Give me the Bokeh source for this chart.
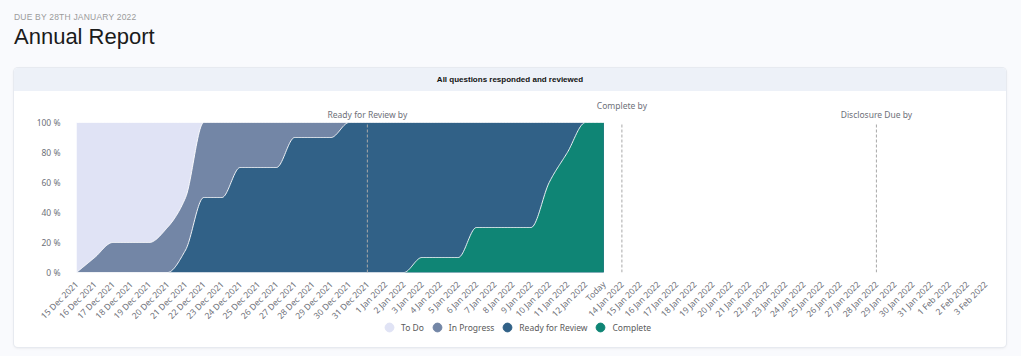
import numpy as np
from bokeh.plotting import figure
from bokeh.models import Range1d, FixedTicker, Legend, LegendItem, Div
from bokeh.layouts import column
from bokeh.embed import file_html
from bokeh.resources import INLINE
from bokeh.core.properties import value

# ---------------- data ----------------
dates = [
    "15 Dec 2021", "16 Dec 2021", "17 Dec 2021", "18 Dec 2021", "19 Dec 2021",
    "20 Dec 2021", "21 Dec 2021", "22 Dec 2021", "23 Dec 2021", "24 Dec 2021",
    "25 Dec 2021", "26 Dec 2021", "27 Dec 2021", "28 Dec 2021", "29 Dec 2021",
    "30 Dec 2021", "31 Dec 2021", "1 Jan 2022", "2 Jan 2022", "3 Jan 2022",
    "4 Jan 2022", "5 Jan 2022", "6 Jan 2022", "7 Jan 2022", "8 Jan 2022",
    "9 Jan 2022", "10 Jan 2022", "11 Jan 2022", "12 Jan 2022", "Today",
    "14 Jan 2022", "15 Jan 2022", "16 Jan 2022", "17 Jan 2022", "18 Jan 2022",
    "19 Jan 2022", "20 Jan 2022", "21 Jan 2022", "22 Jan 2022", "23 Jan 2022",
    "24 Jan 2022", "25 Jan 2022", "26 Jan 2022", "27 Jan 2022", "28 Jan 2022",
    "29 Jan 2022", "30 Jan 2022", "31 Jan 2022", "1 Feb 2022", "2 Feb 2022",
    "3 Feb 2022",
]

series_names = ["To Do", "In Progress", "Ready for Review", "Complete"]
series_colors = ["#e0e3f5", "#7386a6", "#316187", "#0f8575"]

to_do = [100] * 30
in_progress = [0, 10, 20, 20, 20, 30, 50, 100, 100, 100,
               100, 100, 100, 100, 100, 100, 100, 100, 100, 100,
               100, 100, 100, 100, 100, 100, 100, 100, 100, 100]
ready_for_review = [0, 0, 0, 0, 0, 0, 15, 50, 50, 70,
                    70, 70, 90, 90, 90, 100, 100, 100, 100, 100,
                    100, 100, 100, 100, 100, 100, 100, 100, 100, 100]
complete = [0, 0, 0, 0, 0, 0, 0, 0, 0, 0,
            0, 0, 0, 0, 0, 0, 0, 0, 0, 10,
            10, 10, 30, 30, 30, 30, 60, 80, 100, 100]

y_ticks = [0, 20, 40, 60, 80, 100]
y_tick_labels = ["0 %", "20 %", "40 %", "60 %", "80 %", "100 %"]

markline_dates = ["31 Dec 2021", "14 Jan 2022", "28 Jan 2022"]
markline_labels = ["Ready for Review by", "Complete by", "Disclosure Due by"]

subtitle = "DUE BY 28TH JANUARY 2022"
title = "Annual Report"
card_title = "All questions responded and reviewed"

# ---------------- styles ----------------
Y_MAX = 100                 # data maximum (percent)
HEADROOM = 16               # extra y-range above 100 % for the mark-line labels
PX_PER_UNIT = 1.5           # frame is 174 px tall for 116 units
label_offsets_px = [8, 17, 8]
AX_FONT = "Noto Sans"
AX_COLOR = "#6e7079"
FS = "8.5px"


def smooth_curve(xs, ys, steps=24):
    """Monotone cubic Hermite rendering of a line through the data points."""
    x = np.asarray(xs, float)
    y = np.asarray(ys, float)
    n = len(x)
    d = np.diff(y) / np.diff(x)
    m = np.zeros(n)
    for k in range(1, n - 1):
        if d[k - 1] * d[k] > 0:
            m[k] = 2.0 / (1.0 / d[k - 1] + 1.0 / d[k])
    m[0] = d[0]
    m[-1] = d[-1]
    ox, oy = [], []
    for k in range(n - 1):
        h = x[k + 1] - x[k]
        t = np.linspace(0, 1, steps, endpoint=(k == n - 2))
        h00 = 2 * t**3 - 3 * t**2 + 1
        h10 = t**3 - 2 * t**2 + t
        h01 = -2 * t**3 + 3 * t**2
        h11 = t**3 - t**2
        oy.append(h00 * y[k] + h10 * h * m[k] + h01 * y[k + 1] + h11 * h * m[k + 1])
        ox.append(x[k] + t * h)
    return np.concatenate(ox), np.concatenate(oy)


p = figure(
    frame_width=909, frame_height=174,
    x_range=Range1d(0, len(dates) - 1), y_range=Range1d(0, Y_MAX + HEADROOM),
    output_backend="svg", toolbar_location=None,
    min_border_left=62, min_border_right=21, min_border_top=7, min_border_bottom=44,
    background_fill_color="white", border_fill_color="white", outline_line_color=None,
)
p.grid.visible = False

all_series = [to_do, in_progress, ready_for_review, complete]
for name, color, vals in zip(series_names, series_colors, all_series):
    xi = list(range(len(vals)))
    sx, sy = smooth_curve(xi, vals)
    sy = np.clip(sy, 0, Y_MAX)
    p.varea(x=sx, y1=0, y2=sy, fill_color=color, fill_alpha=1)
    p.line(x=sx, y=sy, line_color="white", line_width=1, line_alpha=0.9)

# mark lines (dashed) and their labels
ml_idx = [dates.index(d) for d in markline_dates]
p.segment(x0=ml_idx, y0=[0] * len(ml_idx), x1=ml_idx, y1=[Y_MAX] * len(ml_idx),
          line_color="#a8a8a8", line_width=1, line_dash="3 2")
p.text(x=ml_idx, y=[Y_MAX + o / PX_PER_UNIT for o in label_offsets_px], text=markline_labels,
       text_align="center", text_baseline="middle", text_font=value(AX_FONT),
       text_font_size=FS, text_color=AX_COLOR)

# axes
xa = p.xaxis[0]
xa.ticker = FixedTicker(ticks=list(range(len(dates))))
xa.major_label_overrides = {i: d for i, d in enumerate(dates)}
xa.major_label_orientation = np.pi / 4
xa.axis_line_color = None
xa.major_tick_line_color = None
xa.minor_tick_line_color = None
xa.major_label_text_font = AX_FONT
xa.major_label_text_font_size = FS
xa.major_label_text_color = AX_COLOR
xa.major_label_standoff = 4

ya = p.yaxis[0]
ya.ticker = FixedTicker(ticks=y_ticks)
ya.major_label_overrides = {t: l for t, l in zip(y_ticks, y_tick_labels)}
ya.axis_line_color = None
ya.major_tick_line_color = None
ya.minor_tick_line_color = None
ya.major_label_text_font = AX_FONT
ya.major_label_text_font_size = FS
ya.major_label_text_color = AX_COLOR
ya.major_label_standoff = 10

# ---------------- legend (own transparent strip, slightly overlapping the axis area) ----------------
# The strip's x-range lies beyond the data indices, so its series markers stay
# off-screen and only the legend entries are visible.
lg = figure(width=992, height=36, x_range=Range1d(1000, 1001), y_range=Range1d(0, 1),
            output_backend="svg", toolbar_location=None,
            x_axis_location=None, y_axis_location=None,
            min_border=0, outline_line_color=None,
            background_fill_color=None, border_fill_color=None,
            margin=(-16, 0, 0, 0))
lg.grid.visible = False
legend_items = []
for name, color, vals in zip(series_names, series_colors, all_series):
    r = lg.scatter(x=list(range(len(vals))), y=vals, marker="circle", size=9,
                   fill_color=color, line_color=color)
    legend_items.append(LegendItem(label=name, renderers=[r]))
legend = Legend(items=legend_items, orientation="horizontal", location=(302, 9),
                border_line_color=None, background_fill_alpha=0,
                label_text_font=AX_FONT, label_text_font_size=FS,
                label_text_color="#5a5a5a", glyph_width=22, glyph_height=22,
                label_standoff=1, spacing=2, padding=0, margin=0)
lg.add_layout(legend)

top = Div(
    text=(
        f'<div style="font-family:\'Liberation Sans\',Arial,sans-serif;font-size:8.5px;'
        f'color:#9b9b9b;letter-spacing:0.2px;line-height:10px;padding-top:12px;">{subtitle}</div>'
        f'<div style="font-family:\'Liberation Sans\',Arial,sans-serif;font-size:22px;'
        f'color:#1b1b1b;line-height:26px;margin-top:2px;">{title}</div>'
    ),
    width=1007, height=68, margin=(0, 0, 0, 14),
)

band = Div(
    text=card_title, width=992, height=23, margin=0,
    styles={"background-color": "#edf1f8", "text-align": "center", "font-weight": "bold",
            "font-size": "8px", "line-height": "23px", "color": "#111",
            "font-family": "'Liberation Sans', Arial, sans-serif"},
)

card = column(
    band, p, lg, margin=(0, 15, 8, 14), spacing=0,
    styles={"box-shadow": "0 0 0 1px #e7eaf0, 0 1px 3px rgba(0,0,0,0.10)",
            "border-radius": "4px", "overflow": "hidden", "background-color": "white"},
)

root = column(top, card, width=1021, height=356, spacing=0,
              styles={"background-color": "#f9fafd"})

open("out.html", "w").write(file_html(root, INLINE))
